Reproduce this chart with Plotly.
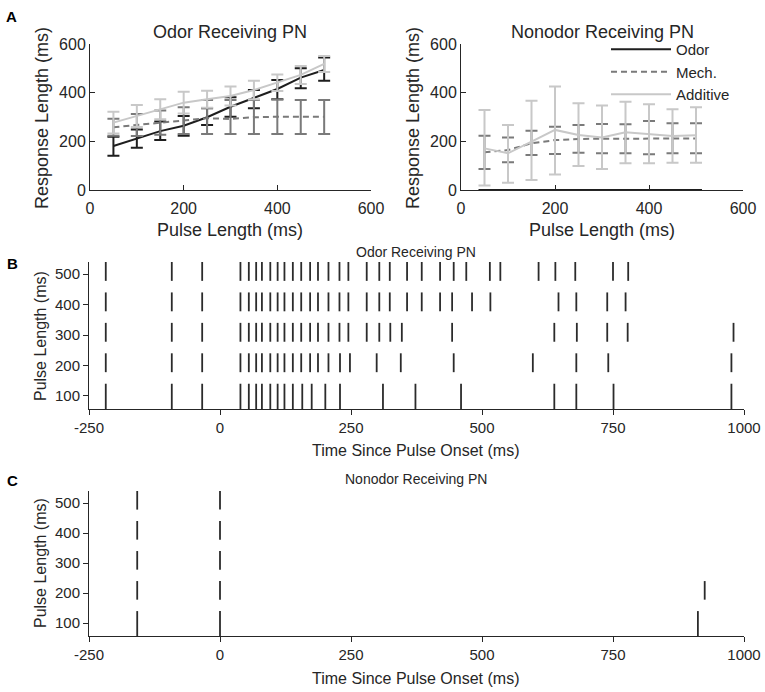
import plotly.graph_objects as go

# Pulse lengths tested (ms)
pulse_len = [50, 100, 150, 200, 250, 300, 350, 400, 450, 500]

# Panel A left: Odor receiving PN (mean, upper and lower error bounds)
odor_l_mean = [181, 212, 242, 264, 299, 342, 377, 415, 462, 493]
odor_l_hi = [219, 249, 281, 304, 336, 381, 411, 452, 500, 545]
odor_l_lo = [141, 174, 205, 223, 267, 301, 336, 373, 418, 449]
mech_l_mean = [258, 267, 277, 285, 295, 292, 299, 301, 301, 301]
mech_l_hi = [293, 312, 327, 340, 370, 370, 370, 372, 370, 370]
mech_l_lo = [223, 222, 227, 230, 230, 230, 230, 230, 230, 230]
add_l_mean = [277, 304, 332, 359, 373, 386, 411, 441, 473, 518]
add_l_hi = [322, 349, 373, 404, 408, 425, 449, 475, 510, 551]
add_l_lo = [232, 259, 291, 314, 338, 347, 373, 407, 436, 485]

# Panel A right: Nonodor receiving PN
odor_r_mean = [0, 0, 0, 0, 0, 0, 0, 0, 0, 0]
mech_r_mean = [155, 164, 192, 205, 210, 210, 210, 212, 212, 212]
mech_r_hi = [223, 216, 244, 260, 267, 271, 270, 284, 274, 274]
mech_r_lo = [86, 114, 144, 148, 153, 151, 151, 147, 151, 151]
add_r_mean = [171, 151, 199, 247, 226, 216, 237, 230, 222, 225]
add_r_hi = [329, 267, 367, 425, 356, 347, 363, 352, 332, 340]
add_r_lo = [18, 30, 41, 64, 99, 86, 110, 110, 112, 112]

# Raster rows (pulse length, ms) and time axis ticks
raster_rows = [100, 200, 300, 400, 500]
time_ticks = [-250, 0, 250, 500, 750, 1000]
time_tick_text = ["-250", "0", "250", "500", "750", "1000"]

# Panel B spike times (ms since pulse onset), one list per row
odor_spikes_100 = [-218, -92, -34, 39, 55, 69, 80, 96, 110, 123, 139, 157, 175, 201, 229,
                   311, 373, 460, 638, 680, 751, 976]
odor_spikes_200 = [-218, -92, -34, 39, 55, 69, 80, 96, 110, 123, 139, 155, 172, 187, 207,
                   229, 248, 299, 345, 446, 597, 680, 741, 976]
odor_spikes_300 = [-218, -92, -34, 39, 55, 69, 80, 96, 110, 123, 139, 155, 172, 187, 207,
                   228, 245, 280, 304, 325, 347, 443, 638, 681, 739, 778, 980]
odor_spikes_400 = [-218, -92, -34, 39, 55, 69, 80, 96, 110, 123, 139, 155, 172, 187, 207,
                   228, 245, 280, 304, 324, 357, 385, 420, 443, 481, 516, 646, 680, 739, 774]
odor_spikes_500 = [-218, -92, -34, 39, 55, 69, 80, 96, 110, 123, 139, 155, 172, 187, 207,
                   228, 245, 280, 304, 324, 357, 385, 420, 446, 470, 515, 535, 608, 640,
                   678, 750, 779]

# Panel C spike times
nonodor_spikes_100 = [-158, 0, 912]
nonodor_spikes_200 = [-158, 0, 925]
nonodor_spikes_300 = [-158, 0]
nonodor_spikes_400 = [-158, 0]
nonodor_spikes_500 = [-158, 0]

odor_spikes = [odor_spikes_100, odor_spikes_200, odor_spikes_300, odor_spikes_400, odor_spikes_500]
nonodor_spikes = [nonodor_spikes_100, nonodor_spikes_200, nonodor_spikes_300,
                  nonodor_spikes_400, nonodor_spikes_500]

W, H = 765, 692
FONT = "Liberation Sans"
AXC = "#262626"
BLACK = "#1e1e1e"
MECH = "#7a7a7a"
ADD = "#c8c8c8"
RAST_YMIN, RAST_YMAX = 57, 540


def px(x0, x1):
    return [x0 / W, x1 / W]


def py(y0, y1):
    return [1 - y1 / H, 1 - y0 / H]


fig = go.Figure()


def add_series(mean, hi, lo, color, dash, name, show, xa, ya):
    up = [h - m for h, m in zip(hi, mean)]
    dn = [m - l for m, l in zip(mean, lo)]
    fig.add_trace(go.Scatter(
        x=pulse_len, y=mean, mode="lines", name=name, showlegend=show,
        line=dict(color=color, width=2, dash=dash),
        error_y=dict(type="data", symmetric=False, array=up, arrayminus=dn,
                     color=color, thickness=2, width=6),
        xaxis=xa, yaxis=ya))


# Left top panel
add_series(odor_l_mean, odor_l_hi, odor_l_lo, BLACK, "solid", "Odor", False, "x", "y")
add_series(mech_l_mean, mech_l_hi, mech_l_lo, MECH, "6px,4px", "Mech.", False, "x", "y")
add_series(add_l_mean, add_l_hi, add_l_lo, ADD, "solid", "Additive", False, "x", "y")

# Right top panel (with legend)
add_series(odor_r_mean, odor_r_mean, odor_r_mean, BLACK, "solid", "Odor", True, "x2", "y2")
add_series(mech_r_mean, mech_r_hi, mech_r_lo, MECH, "6px,4px", "Mech.", True, "x2", "y2")
add_series(add_r_mean, add_r_hi, add_r_lo, ADD, "solid", "Additive", True, "x2", "y2")


def raster_xy(spike_lists):
    xs, ys = [], []
    for row, times in zip(raster_rows, spike_lists):
        lo = RAST_YMIN if row == raster_rows[0] else row - 22
        for t in times:
            xs += [t, t, None]
            ys += [lo, row + 40, None]
    return xs, ys


for spikes, xa, ya in [(odor_spikes, "x3", "y3"), (nonodor_spikes, "x4", "y4")]:
    rx, ry = raster_xy(spikes)
    fig.add_trace(go.Scatter(x=rx, y=ry, mode="lines", showlegend=False,
                             line=dict(color="#2b2b2b", width=1.8),
                             xaxis=xa, yaxis=ya))

ax_common = dict(showline=True, linecolor=AXC, linewidth=1, showgrid=False, zeroline=False,
                 ticklen=5, tickcolor=AXC, tickwidth=1)
top_x = dict(ax_common, range=[0, 600], tickvals=[0, 200, 400, 600], ticks="inside",
             ticklabelstandoff=4, tickfont=dict(size=16, color=AXC))
top_y = dict(ax_common, range=[0, 600], tickvals=[0, 200, 400, 600], ticks="inside",
             tickfont=dict(size=16, color=AXC))
rast_x = dict(ax_common, range=[-250, 1000], tickvals=time_ticks, ticktext=time_tick_text,
              ticks="outside", tickfont=dict(size=15, color=AXC))
rast_y = dict(ax_common, range=[RAST_YMIN, RAST_YMAX], tickvals=raster_rows, ticks="outside",
              tickfont=dict(size=15, color=AXC))

fig.update_layout(
    width=W, height=H,
    margin=dict(l=0, r=0, t=0, b=0, autoexpand=False),
    paper_bgcolor="white", plot_bgcolor="white",
    font=dict(family=FONT, color=AXC),
    xaxis=dict(top_x, domain=px(90, 371), anchor="y"),
    yaxis=dict(top_y, domain=py(44, 190), anchor="x"),
    xaxis2=dict(top_x, domain=px(461, 743), anchor="y2"),
    yaxis2=dict(top_y, domain=py(44, 190), anchor="x2"),
    xaxis3=dict(rast_x, domain=px(89, 744), anchor="y3"),
    yaxis3=dict(rast_y, domain=py(262, 409), anchor="x3"),
    xaxis4=dict(rast_x, domain=px(89, 744), anchor="y4"),
    yaxis4=dict(rast_y, domain=py(491, 636), anchor="x4"),
    legend=dict(x=606 / W, y=1 - 33 / H, xanchor="left", yanchor="top",
                bgcolor="rgba(0,0,0,0)", font=dict(size=15, color=AXC),
                itemwidth=60, tracegroupgap=0),
)


def label(text, x, y, size, angle=0, bold=False):
    fig.add_annotation(text=f"<b>{text}</b>" if bold else text, x=x / W, y=1 - y / H,
                       xref="paper", yref="paper", showarrow=False, textangle=angle,
                       xanchor="center", yanchor="middle",
                       font=dict(family=FONT, size=size, color=AXC if not bold else "black"))


# Panel letters
label("A", 11, 17, 15, bold=True)
label("B", 12, 263, 15, bold=True)
label("C", 12, 480, 15, bold=True)

# Top panel titles and axis labels
label("Odor Receiving PN", 230, 32, 18)
label("Nonodor Receiving PN", 602, 32, 18)
label("Pulse Length (ms)", 230, 230, 18)
label("Pulse Length (ms)", 602, 230, 18)
label("Response Length (ms)", 42, 118, 18, angle=-90)
label("Response Length (ms)", 413, 118, 18, angle=-90)

# Raster titles and axis labels
label("Odor Receiving PN", 416, 252, 14)
label("Time Since Pulse Onset (ms)", 416, 450, 16)
label("Pulse Length (ms)", 40, 336, 16, angle=-90)
label("Nonodor Receiving PN", 416, 479, 14)
label("Time Since Pulse Onset (ms)", 416, 678, 16)
label("Pulse Length (ms)", 40, 563, 16, angle=-90)

# Page body margin removed so the figure fills the window exactly
fig.write_html("out.html", config={"displayModeBar": False},
               post_script="document.body.style.margin='0';")
